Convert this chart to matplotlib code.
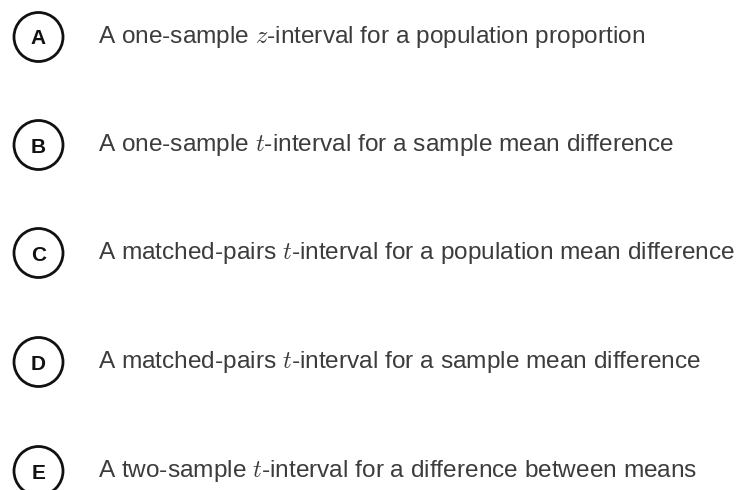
import matplotlib
matplotlib.use("Agg")
import matplotlib.pyplot as plt
from matplotlib.patches import Circle

plt.rcParams['font.family'] = ['Liberation Sans', 'DejaVu Sans']
plt.rcParams['mathtext.fontset'] = 'cm'

letters = ["A", "B", "C", "D", "E"]
options = [
    "A one-sample $z$-interval for a population proportion",
    "A one-sample $t$-interval for a sample mean difference",
    "A matched-pairs $t$-interval for a population mean difference",
    "A matched-pairs $t$-interval for a sample mean difference",
    "A two-sample $t$-interval for a difference between means",
]
# row centres in pixels from the top
rows = [37, 145, 253, 362, 471]

fig = plt.figure(figsize=(7.4, 4.9), dpi=100)
ax = fig.add_axes([0, 0, 1, 1])
ax.set_xlim(0, 740)
ax.set_ylim(490, 0)
ax.axis('off')

for letter, text, y in zip(letters, options, rows):
    ax.add_patch(Circle((38.5, y), 24.5, fill=False, edgecolor='#111111', linewidth=2))
    ax.text(38.5, y + 7.5, letter, ha='center', va='baseline', fontsize=15,
            fontweight='bold', color='#111111')
    ax.text(98, y + 6, text, ha='left', va='baseline', fontsize=17.6, color='#3c3c3c')

fig.savefig("out.png", dpi=100)
